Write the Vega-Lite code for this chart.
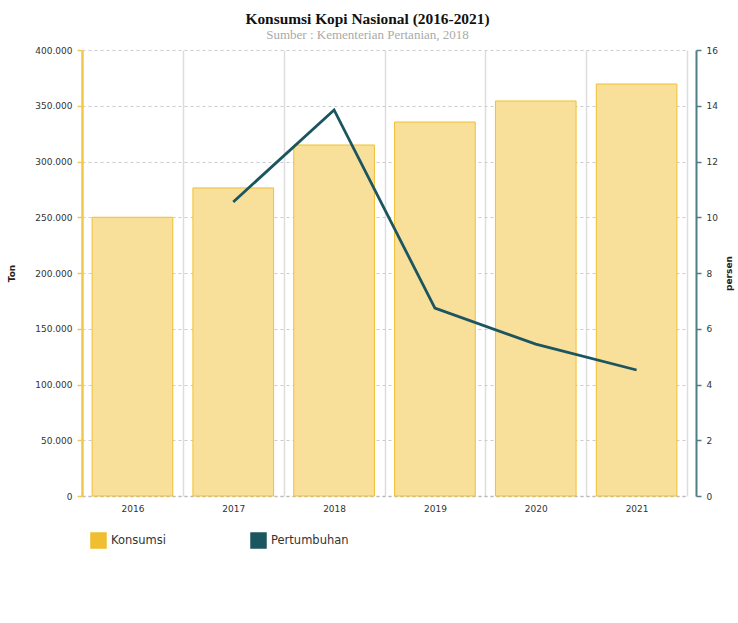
{
  "$schema": "https://vega.github.io/schema/vega-lite/v6.json",
  "width": 605,
  "height": 446,
  "autosize": {"type": "none"},
  "padding": {"left": 82, "top": 50, "right": 51, "bottom": 127},
  "background": "white",
  "config": {
    "locale": {"number": {"decimal": ",", "thousands": ".", "grouping": [3], "currency": ["Rp", ""]}},
    "view": {"stroke": null},
    "axis": {"labelFont": "DejaVu Sans", "labelFontSize": 9, "labelColor": "#333", "titleFont": "DejaVu Sans"}
  },
  "title": {
    "text": "Konsumsi Kopi Nasional (2016-2021)",
    "subtitle": "Sumber : Kementerian Pertanian, 2018",
    "font": "Liberation Serif",
    "fontSize": 15.4,
    "fontWeight": "bold",
    "color": "#111",
    "subtitleFont": "Liberation Serif",
    "subtitleFontSize": 13,
    "subtitleColor": "#aaa",
    "anchor": "middle",
    "dx": -17,
    "offset": 4,
    "subtitlePadding": 2
  },
  "data": {
    "values": [
      {"tahun": "2016", "konsumsi": 250000, "pertumbuhan": null},
      {"tahun": "2017", "konsumsi": 276300, "pertumbuhan": 10.55},
      {"tahun": "2018", "konsumsi": 314800, "pertumbuhan": 13.85},
      {"tahun": "2019", "konsumsi": 335400, "pertumbuhan": 6.74},
      {"tahun": "2020", "konsumsi": 354300, "pertumbuhan": 5.45},
      {"tahun": "2021", "konsumsi": 369500, "pertumbuhan": 4.52}
    ]
  },
  "layer": [
    {
      "layer": [
        {
          "mark": {"type": "bar", "fill": "white", "width": {"band": 0.8}},
          "encoding": {
            "x": {
              "field": "tahun",
              "type": "ordinal",
              "scale": {"paddingInner": 0, "paddingOuter": 0},
              "axis": {
                "title": null,
                "labelAngle": 0,
                "ticks": false,
                "tickBand": "extent",
                "grid": true,
                "gridColor": "#dddddd",
                "gridWidth": 1.5,
                "domain": true,
                "domainColor": "#bbbbbb",
                "domainDash": [3, 3],
                "domainWidth": 1.5,
                "labelPadding": 8
              }
            },
            "y": {
              "field": "konsumsi",
              "type": "quantitative",
              "scale": {"domain": [0, 400000]},
              "axis": {
                "title": "Ton",
                "titleFontSize": 9,
                "titleFontWeight": "bold",
                "titleColor": "#222",
                "titleAngle": -90,
                "titleX": -66,
                "titleY": 223,
                "values": [0, 50000, 100000, 150000, 200000, 250000, 300000, 350000, 400000],
                "labelOverlap": false,
                "format": ",d",
                "grid": true,
                "gridColor": "#cccccc",
                "gridDash": [3, 3],
                "gridWidth": 1,
                "domainColor": "#F2C94C",
                "domainWidth": 2.5,
                "tickColor": "#F2C94C",
                "tickSize": 5,
                "tickWidth": 1.5,
                "labelPadding": 5
              }
            }
          }
        },
        {
          "mark": {"type": "bar", "fillOpacity": 0.48, "stroke": "#F0C030", "strokeWidth": 1, "width": {"band": 0.8}},
          "encoding": {
            "x": {"field": "tahun", "type": "ordinal"},
            "y": {"field": "konsumsi", "type": "quantitative"},
            "color": {
              "datum": "Konsumsi",
              "scale": {"domain": ["Konsumsi", "Pertumbuhan"], "range": ["#F0BE2E", "#1B5560"]},
              "legend": {
                "title": null,
                "orient": "none",
                "legendX": 8,
                "legendY": 482,
                "direction": "horizontal",
                "symbolType": "square",
                "symbolSize": 225,
                "labelFont": "DejaVu Sans",
                "labelFontSize": 11.5,
                "labelColor": "#333",
                "columnPadding": 82,
                "encode": {
                  "symbols": {
                    "update": {
                      "fill": {"scale": "color", "field": "value"},
                      "stroke": {"value": "transparent"},
                      "opacity": {"value": 1},
                      "fillOpacity": {"value": 1}
                    }
                  }
                }
              }
            }
          }
        }
      ]
    },
    {
      "mark": {"type": "line", "strokeWidth": 2.8},
      "encoding": {
        "x": {"field": "tahun", "type": "ordinal"},
        "y": {
          "field": "pertumbuhan",
          "type": "quantitative",
          "scale": {"domain": [0, 16]},
          "axis": {
            "orient": "right",
            "title": "persen",
            "titleFontSize": 9,
            "titleFontWeight": "bold",
            "titleColor": "#222",
            "titleAngle": -90,
            "titleX": 37,
            "titleY": 223,
            "values": [0, 2, 4, 6, 8, 10, 12, 14, 16],
            "labelOverlap": false,
            "offset": 9,
            "grid": false,
            "domainColor": "#4E7F87",
            "domainWidth": 2,
            "tickColor": "#4E7F87",
            "tickSize": 5,
            "tickWidth": 1.5,
            "labelPadding": 5
          }
        },
        "color": {"datum": "Pertumbuhan"}
      }
    }
  ],
  "resolve": {"scale": {"y": "independent"}}
}
